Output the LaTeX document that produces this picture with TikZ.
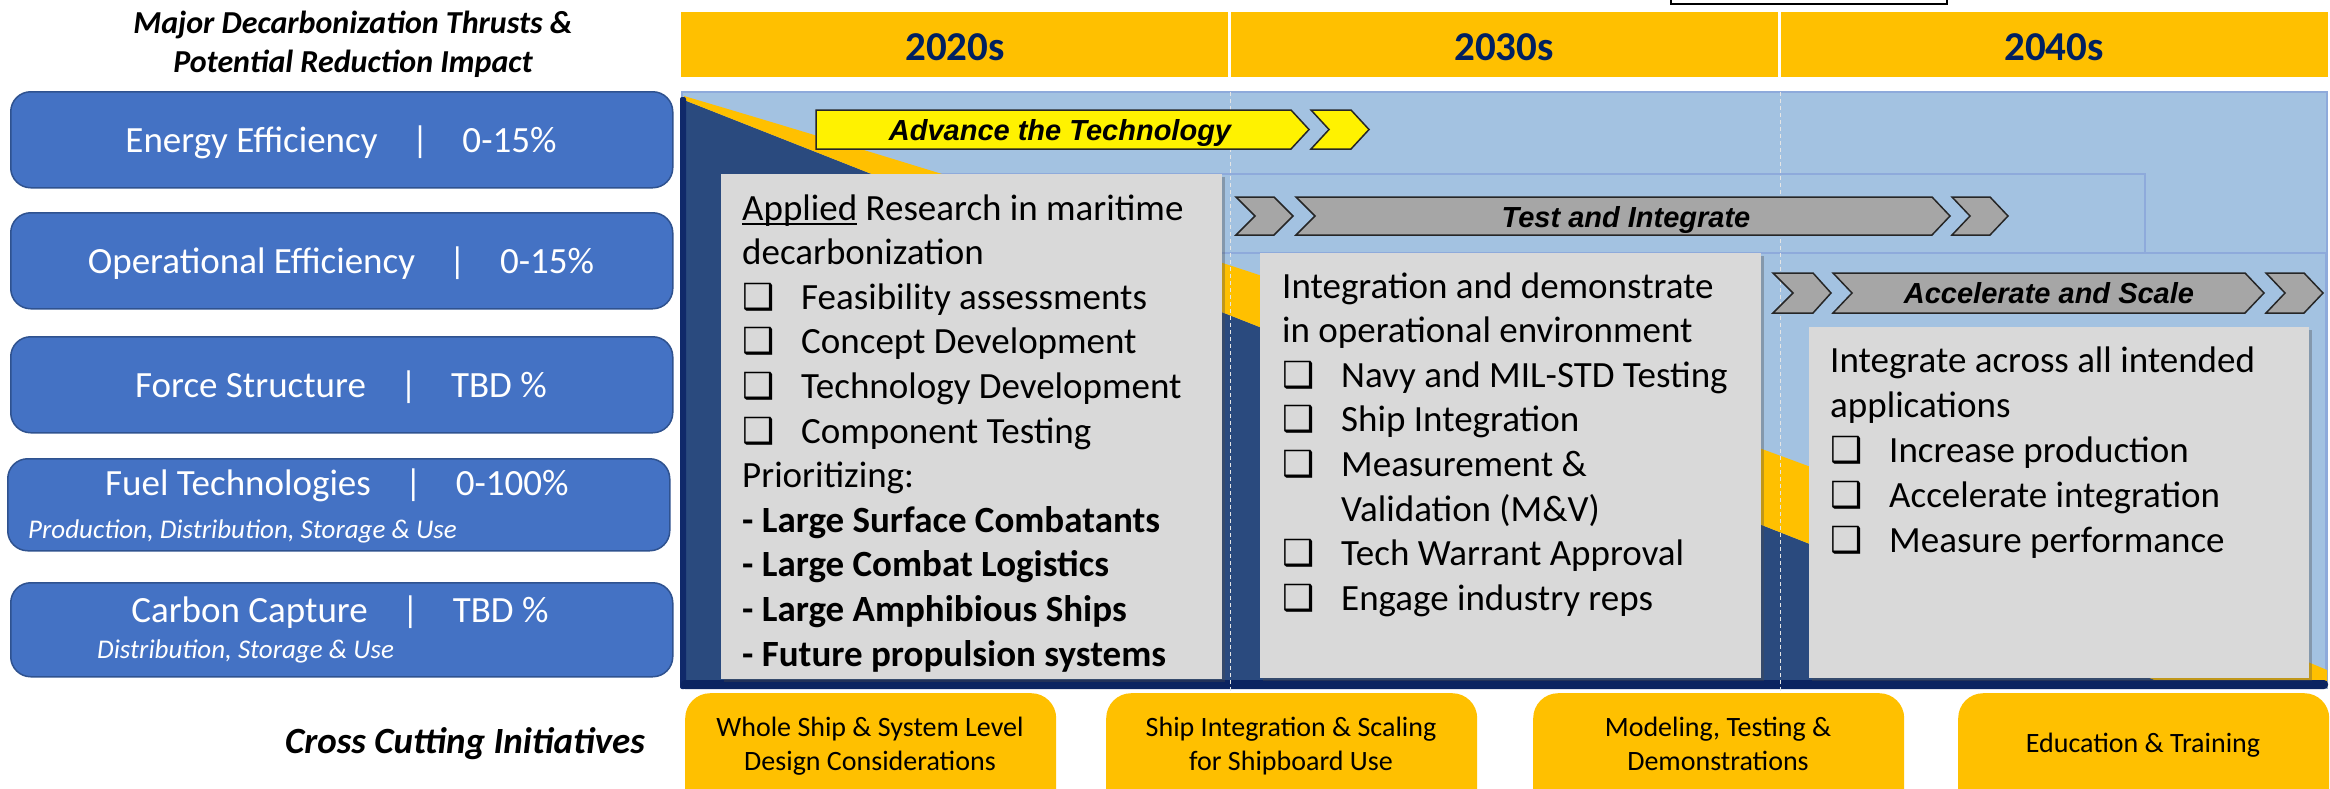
\documentclass[tikz,border=0pt]{standalone}
\usepackage{fontspec}
\setmainfont{Carlito}
\newfontfamily\arialf{Liberation Sans}
\newfontfamily\symf{DejaVu Sans}
\usetikzlibrary{shadows}

\definecolor{thrustblue}{HTML}{4472C4}
\definecolor{thrustedge}{HTML}{2F528F}
\definecolor{gold}{HTML}{FFC000}
\definecolor{yeartext}{HTML}{002060}
\definecolor{panelblue}{HTML}{A3C2E1}
\definecolor{paneledge}{HTML}{8EAADB}
\definecolor{navyfill}{HTML}{2A4A7E}
\definecolor{navyedge}{HTML}{10296A}
\definecolor{navybar}{HTML}{0B2461}
\definecolor{cardgrey}{HTML}{D9D9D9}
\definecolor{chevgrey}{HTML}{A6A6A6}

% check-box bullet with a fixed indent
\newcommand\chk{\makebox[59pt][l]{\symf\fontsize{36}{36}\selectfont ❑}}
\newcommand\chkgap{\makebox[59pt][l]{}}
% underline placed at a fixed depth below the baseline
\newcommand\ulword[1]{\setbox0\hbox{#1}\rlap{\rule[-5pt]{\wd0}{2pt}}\box0\relax}
% separator between a thrust and its reduction range
\newcommand\barsep{\hspace{34pt}|\hspace{34pt}}

\begin{document}
\begin{tikzpicture}[x=1pt,y=-1pt,
  thrust/.style={draw=thrustedge, line width=1.5pt, fill=thrustblue, rounded corners=20pt,
    anchor=north west, minimum width=662pt, minimum height=96pt, inner sep=0pt},
  thrustlbl/.style={text=white, anchor=base, inner sep=0pt, font=\fontsize{37}{44}\selectfont},
  thrustsub/.style={text=white, anchor=base west, inner sep=0pt, font=\itshape\fontsize{27}{32}\selectfont},
  titlelbl/.style={anchor=base, inner sep=0pt, font=\bfseries\itshape\fontsize{32}{38}\selectfont},
  yearcell/.style={fill=gold, anchor=north west, minimum width=547pt, minimum height=65pt, inner sep=0pt},
  yearlbl/.style={text=yeartext, anchor=base, inner sep=0pt, font=\bfseries\fontsize{41}{48}\selectfont},
  phase/.style={fill=panelblue, draw=paneledge, line width=1.5pt},
  divider/.style={draw=white!80!gray, line width=0.8pt, dash pattern=on 4pt off 3pt},
  card/.style={fill=cardgrey, anchor=north west, inner sep=0pt,
    drop shadow={shadow xshift=2.5pt, shadow yshift=-2.5pt, opacity=0.35, fill=black!70}},
  cardline/.style={anchor=base west, inner sep=0pt, font=\fontsize{37}{44}\selectfont},
  greychev/.style={fill=chevgrey, draw=black!85, line width=1.5pt},
  yellowchev/.style={fill=yellow, draw=black!85, line width=1.5pt},
  chevlbl/.style={anchor=base, inner sep=0pt, font=\arialf\bfseries\itshape\fontsize{29}{34}\selectfont},
  initbox/.style={fill=gold, rounded corners=25pt, anchor=north west, minimum width=371pt,
    minimum height=125pt, inner sep=0pt},
  initlbl/.style={anchor=base, inner sep=0pt, font=\fontsize{28}{34}\selectfont},
]
\useasboundingbox (0,0) rectangle (2330,788);
\clip (0,0) rectangle (2330,788);
\fill[white] (0,0) rectangle (2330,788);

% ---------- left column: heading and thrust boxes ----------
\node[titlelbl] (title1) at (353,33) {Major Decarbonization Thrusts \&};
\node[titlelbl] (title2) at (353,72) {Potential Reduction Impact};

\node[thrust] (ee) at (10,91) {};
\node[thrustlbl] (eelbl) at (341,152) {Energy Efficiency\barsep 0-15\%};

\node[thrust] (oe) at (10,212) {};
\node[thrustlbl] (oelbl) at (341,273) {Operational Efficiency\barsep 0-15\%};

\node[thrust] (fs) at (10,336) {};
\node[thrustlbl] (fslbl) at (341,397) {Force Structure\barsep TBD \%};

\node[thrust, minimum height=92pt] (ft) at (7,458) {};
\node[thrustlbl] (ftlbl) at (337,495) {Fuel Technologies\barsep 0-100\%};
\node[thrustsub] (ftsub) at (28,538) {Production, Distribution, Storage \& Use};

\node[thrust, minimum height=94pt] (cc) at (10,582) {};
\node[thrustlbl] (cclbl) at (340,622) {Carbon Capture\barsep TBD \%};
\node[thrustsub] (ccsub) at (97,658) {Distribution, Storage \& Use};

\node[titlelbl, font=\bfseries\itshape\fontsize{37}{44}\selectfont] (cross) at (465,753) {Cross Cutting Initiatives};

% ---------- decade header ----------
\draw[black, line width=1.5pt] (1671,-3) -- (1671,4) -- (1947,4) -- (1947,-3);
\node[yearcell] (y20) at (681,12) {};
\node[yearcell] (y30) at (1231,12) {};
\node[yearcell] (y40) at (1781,12) {};
\node[yearlbl] (y20lbl) at (955,60) {2020s};
\node[yearlbl] (y30lbl) at (1504,60) {2030s};
\node[yearlbl] (y40lbl) at (2054,60) {2040s};

% ---------- roadmap panel ----------
\draw[phase] (682,92) rectangle (2327,688);
\draw[phase] (686,174) rectangle (2145,686);
\draw[phase] (686,253) rectangle (2326,686);
% dark wedge with its gold swoosh
\fill[navyfill] (684,100) -- (2175,688) -- (684,688) -- cycle;
\fill[gold] (684,96) .. controls (1231,258) and (1777,440) .. (2327,670)
  -- (2327,688) -- (2175,688) -- (684,100) -- cycle;
\fill[navyedge, rounded corners=2pt] (680,97) rectangle (686,689);
\fill[navybar, rounded corners=4pt] (681,680) rectangle (2328,689);
% decade dividers
\draw[divider] (1230,92) -- (1230,695);
\draw[divider] (1780,92) -- (1780,695);

% ---------- phase chevrons ----------
\draw[yellowchev] (816,110) -- (1291,110) -- (1309,129.5) -- (1291,149) -- (816,149) -- cycle;
\draw[yellowchev] (1311,110) -- (1351,110) -- (1369,129.5) -- (1351,149) -- (1311,149) -- (1329,129.5) -- cycle;
\node[chevlbl] (adv) at (1060,140) {Advance the Technology};

\draw[greychev] (1236,197) -- (1274,197) -- (1293,216) -- (1274,235) -- (1236,235) -- (1255,216) -- cycle;
\draw[greychev] (1296,197) -- (1932,197) -- (1950,216) -- (1932,235) -- (1296,235) -- (1315,216) -- cycle;
\draw[greychev] (1952,197) -- (1990,197) -- (2008,216) -- (1990,235) -- (1952,235) -- (1970,216) -- cycle;
\node[chevlbl] (test) at (1626,227) {Test and Integrate};

\draw[greychev] (1773,273) -- (1813,273) -- (1831,293) -- (1813,313) -- (1773,313) -- (1793,293) -- cycle;
\draw[greychev] (1833,273) -- (2245,273) -- (2264,293) -- (2245,313) -- (1833,313) -- (1852,293) -- cycle;
\draw[greychev] (2266,273) -- (2304,273) -- (2323,293) -- (2304,313) -- (2266,313) -- (2285,293) -- cycle;
\node[chevlbl] (accel) at (2049,303) {Accelerate and Scale};

% ---------- phase cards ----------
\node[card, minimum width=501pt, minimum height=505pt] (card1) at (721,174) {};
\foreach \txt [count=\k from 0] in {
  {\ulword{Applied} Research in maritime},
  {decarbonization},
  {\chk Feasibility assessments},
  {\chk Concept Development},
  {\chk Technology Development},
  {\chk Component Testing},
  {Prioritizing:},
  {\textbf{- Large Surface Combatants}},
  {\textbf{- Large Combat Logistics}},
  {\textbf{- Large Amphibious Ships}},
  {\textbf{- Future propulsion systems}}}
  {\node[cardline] (cardA\k) at (742,{220+44.6*\k}) {\txt};}

\node[card, minimum width=501pt, minimum height=425pt] (card2) at (1260,253) {};
\foreach \txt [count=\k from 0] in {
  {Integration and demonstrate},
  {in operational environment},
  {\chk Navy and MIL-STD Testing},
  {\chk Ship Integration},
  {\chk Measurement \&},
  {\chkgap Validation (M\&V)},
  {\chk Tech Warrant Approval},
  {\chk Engage industry reps}}
  {\node[cardline] (cardB\k) at (1282,{298+44.6*\k}) {\txt};}

\node[card, minimum width=500pt, minimum height=351pt] (card3) at (1809,327) {};
\foreach \txt [count=\k from 0] in {
  {Integrate across all intended},
  {applications},
  {\chk Increase production},
  {\chk Accelerate integration},
  {\chk Measure performance}}
  {\node[cardline] (cardC\k) at (1830,{372+45*\k}) {\txt};}

% ---------- cross cutting initiatives ----------
\node[initbox] (ini1) at (685,693) {};
\node[initlbl] (ini1a) at (870,736) {Whole Ship \& System Level};
\node[initlbl] (ini1b) at (870,770) {Design Considerations};

\node[initbox] (ini2) at (1106,693) {};
\node[initlbl] (ini2a) at (1291,736) {Ship Integration \& Scaling};
\node[initlbl] (ini2b) at (1291,770) {for Shipboard Use};

\node[initbox] (ini3) at (1533,693) {};
\node[initlbl] (ini3a) at (1718,736) {Modeling, Testing \&};
\node[initlbl] (ini3b) at (1718,770) {Demonstrations};

\node[initbox] (ini4) at (1958,693) {};
\node[initlbl] (ini4a) at (2143,752) {Education \& Training};
\end{tikzpicture}
\end{document}
